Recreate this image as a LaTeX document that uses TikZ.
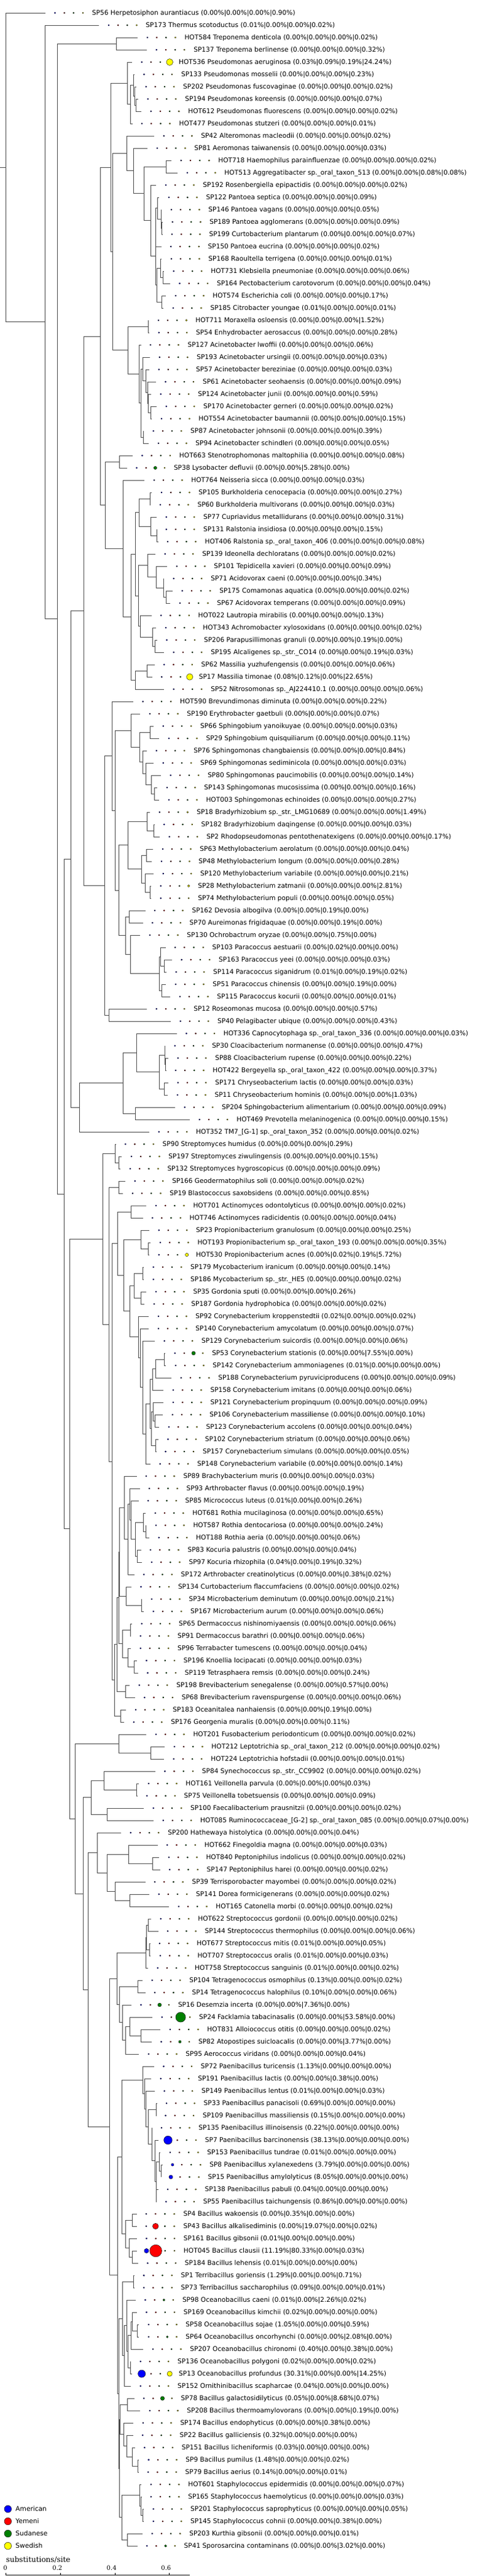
\documentclass[tikz,border=0pt]{standalone}
\usepackage{fontspec}
\setmainfont{DejaVu Sans}
\newfontfamily\scalefont{DejaVu Serif}
\usetikzlibrary{calc}

\definecolor{american}{RGB}{0,0,255}
\definecolor{yemeni}{RGB}{255,0,0}
\definecolor{sudanese}{RGB}{0,128,0}
\definecolor{swedish}{RGB}{255,255,0}

\tikzset{
  treeline/.style={draw=black!70, line width=1pt},
  dotline/.style={draw=black, line width=0.4pt},
  leaflabel/.style={anchor=base west, inner sep=0pt, font=\fontsize{10.6}{12}\selectfont},
  scalelabel/.style={inner sep=0pt, font=\scalefont\fontsize{10}{12}\selectfont},
  scaletitle/.style={anchor=west, inner sep=0pt, font=\scalefont\fontsize{12}{14}\selectfont},
}

% a leaf: row, branch end, id, species, American, Yemeni, Sudanese, Swedish
\newcommand\leaf[8]{%
  \coordinate (#3) at (#2,{21+20*#1});
  \pgfmathsetmacro\dotr{max(1.1,1.1*sqrt(#5))}
  \filldraw[dotline, fill=american] (#2+40,{21+20*#1}) circle[radius=\dotr pt];
  \pgfmathsetmacro\dotr{max(1.1,1.1*sqrt(#6))}
  \filldraw[dotline, fill=yemeni] (#2+79,{21+20*#1}) circle[radius=\dotr pt];
  \pgfmathsetmacro\dotr{max(1.1,1.1*sqrt(#7))}
  \filldraw[dotline, fill=sudanese] (#2+118,{21+20*#1}) circle[radius=\dotr pt];
  \pgfmathsetmacro\dotr{max(1.1,1.1*sqrt(#8))}
  \filldraw[dotline, fill=swedish] (#2+157,{21+20*#1}) circle[radius=\dotr pt];
  \node[leaflabel] (#3-label) at (#2+195,{24.8+20*#1}) {#3 #4 (#5\%|#6\%|#7\%|#8\%)};
}

% an inner node: name, x, first child, last child
\newcommand\inode[4]{%
  \coordinate (#1) at ($(#3)!0.5!(#4)$);
  \coordinate (#1) at (#2,0 |- #1);
  \draw[treeline] (#1) |- (#3);
  \draw[treeline] (#1) |- (#4);
}

\begin{document}
\begin{tikzpicture}[x=0.389pt, y=-1pt]
  \fill[white] (0,0) rectangle (2056.56,4190);
  \useasboundingbox (0,0) rectangle (2056.56,4190);

  \leaf{0}{190}{SP56}{Herpetosiphon aurantiacus}{0.00}{0.00}{0.00}{0.90}
  \leaf{1}{415}{SP173}{Thermus scotoductus}{0.01}{0.00}{0.00}{0.02}
  \leaf{2}{577}{HOT584}{Treponema denticola}{0.00}{0.00}{0.00}{0.02}
  \leaf{3}{615}{SP137}{Treponema berlinense}{0.00}{0.00}{0.00}{0.32}
  \leaf{4}{553}{HOT536}{Pseudomonas aeruginosa}{0.03}{0.09}{0.19}{24.24}
  \leaf{5}{563}{SP133}{Pseudomonas mosselii}{0.00}{0.00}{0.00}{0.23}
  \leaf{6}{571}{SP202}{Pseudomonas fuscovaginae}{0.00}{0.00}{0.00}{0.02}
  \leaf{7}{579}{SP194}{Pseudomonas koreensis}{0.00}{0.00}{0.00}{0.07}
  \leaf{8}{592}{HOT612}{Pseudomonas fluorescens}{0.00}{0.00}{0.00}{0.02}
  \leaf{9}{554}{HOT477}{Pseudomonas stutzeri}{0.00}{0.00}{0.00}{0.01}
  \leaf{10}{646}{SP42}{Alteromonas macleodii}{0.00}{0.00}{0.00}{0.02}
  \leaf{11}{618}{SP81}{Aeromonas taiwanensis}{0.00}{0.00}{0.00}{0.03}
  \leaf{12}{718}{HOT718}{Haemophilus parainfluenzae}{0.00}{0.00}{0.00}{0.02}
  \leaf{13}{744}{HOT513}{Aggregatibacter sp.\_oral\_taxon\_513}{0.00}{0.00}{0.08}{0.08}
  \leaf{14}{654}{SP192}{Rosenbergiella epipactidis}{0.00}{0.00}{0.00}{0.02}
  \leaf{15}{667}{SP122}{Pantoea septica}{0.00}{0.00}{0.00}{0.09}
  \leaf{16}{677}{SP146}{Pantoea vagans}{0.00}{0.00}{0.00}{0.05}
  \leaf{17}{682}{SP189}{Pantoea agglomerans}{0.00}{0.00}{0.00}{0.09}
  \leaf{18}{680}{SP199}{Curtobacterium plantarum}{0.00}{0.00}{0.00}{0.07}
  \leaf{19}{675}{SP150}{Pantoea eucrina}{0.00}{0.00}{0.00}{0.02}
  \leaf{20}{677}{SP168}{Raoultella terrigena}{0.00}{0.00}{0.00}{0.01}
  \leaf{21}{687}{HOT731}{Klebsiella pneumoniae}{0.00}{0.00}{0.00}{0.06}
  \leaf{22}{712}{SP164}{Pectobacterium carotovorum}{0.00}{0.00}{0.00}{0.04}
  \leaf{23}{695}{HOT574}{Escherichia coli}{0.00}{0.00}{0.00}{0.17}
  \leaf{24}{685}{SP185}{Citrobacter youngae}{0.01}{0.00}{0.00}{0.01}
  \leaf{25}{623}{HOT711}{Moraxella osloensis}{0.00}{0.00}{0.00}{1.52}
  \leaf{26}{625}{SP54}{Enhydrobacter aerosaccus}{0.00}{0.00}{0.00}{0.28}
  \leaf{27}{590}{SP127}{Acinetobacter lwoffii}{0.00}{0.00}{0.00}{0.06}
  \leaf{28}{628}{SP193}{Acinetobacter ursingii}{0.00}{0.00}{0.00}{0.03}
  \leaf{29}{625}{SP57}{Acinetobacter bereziniae}{0.00}{0.00}{0.00}{0.03}
  \leaf{30}{653}{SP61}{Acinetobacter seohaensis}{0.00}{0.00}{0.00}{0.09}
  \leaf{31}{633}{SP124}{Acinetobacter junii}{0.00}{0.00}{0.00}{0.59}
  \leaf{32}{656}{SP170}{Acinetobacter gerneri}{0.00}{0.00}{0.00}{0.02}
  \leaf{33}{636}{HOT554}{Acinetobacter baumannii}{0.00}{0.00}{0.00}{0.15}
  \leaf{34}{602}{SP87}{Acinetobacter johnsonii}{0.00}{0.00}{0.00}{0.39}
  \leaf{35}{623}{SP94}{Acinetobacter schindleri}{0.00}{0.00}{0.00}{0.05}
  \leaf{36}{555}{HOT663}{Stenotrophomonas maltophilia}{0.00}{0.00}{0.00}{0.08}
  \leaf{37}{532}{SP38}{Lysobacter defluvii}{0.00}{0.00}{5.28}{0.00}
  \leaf{38}{605}{HOT764}{Neisseria sicca}{0.00}{0.00}{0.00}{0.03}
  \leaf{39}{636}{SP105}{Burkholderia cenocepacia}{0.00}{0.00}{0.00}{0.27}
  \leaf{40}{631}{SP60}{Burkholderia multivorans}{0.00}{0.00}{0.00}{0.03}
  \leaf{41}{656}{SP77}{Cupriavidus metallidurans}{0.00}{0.00}{0.00}{0.31}
  \leaf{42}{656}{SP131}{Ralstonia insidiosa}{0.00}{0.00}{0.00}{0.15}
  \leaf{43}{662}{HOT406}{Ralstonia sp.\_oral\_taxon\_406}{0.00}{0.00}{0.00}{0.08}
  \leaf{44}{651}{SP139}{Ideonella dechloratans}{0.00}{0.00}{0.00}{0.02}
  \leaf{45}{700}{SP101}{Tepidicella xavieri}{0.00}{0.00}{0.00}{0.09}
  \leaf{46}{687}{SP71}{Acidovorax caeni}{0.00}{0.00}{0.00}{0.34}
  \leaf{47}{723}{SP175}{Comamonas aquatica}{0.00}{0.00}{0.00}{0.02}
  \leaf{48}{713}{SP67}{Acidovorax temperans}{0.00}{0.00}{0.00}{0.09}
  \leaf{49}{634}{HOT022}{Lautropia mirabilis}{0.00}{0.00}{0.00}{0.13}
  \leaf{50}{654}{HOT343}{Achromobacter xylosoxidans}{0.00}{0.00}{0.00}{0.02}
  \leaf{51}{658}{SP206}{Parapusillimonas granuli}{0.00}{0.00}{0.19}{0.00}
  \leaf{52}{687}{SP195}{Alcaligenes sp.\_str.\_CO14}{0.00}{0.00}{0.19}{0.03}
  \leaf{53}{647}{SP62}{Massilia yuzhufengensis}{0.00}{0.00}{0.00}{0.06}
  \leaf{54}{637}{SP17}{Massilia timonae}{0.08}{0.12}{0.00}{22.65}
  \leaf{55}{687}{SP52}{Nitrosomonas sp.\_AJ224410.1}{0.00}{0.00}{0.00}{0.06}
  \leaf{56}{558}{HOT590}{Brevundimonas diminuta}{0.00}{0.00}{0.00}{0.22}
  \leaf{57}{587}{SP190}{Erythrobacter gaetbuli}{0.00}{0.00}{0.00}{0.07}
  \leaf{58}{643}{SP66}{Sphingobium yanoikuyae}{0.00}{0.00}{0.00}{0.03}
  \leaf{59}{667}{SP29}{Sphingobium quisquiliarum}{0.00}{0.00}{0.00}{0.11}
  \leaf{60}{615}{SP76}{Sphingomonas changbaiensis}{0.00}{0.00}{0.00}{0.84}
  \leaf{61}{643}{SP69}{Sphingomonas sediminicola}{0.00}{0.00}{0.00}{0.03}
  \leaf{62}{674}{SP80}{Sphingomonas paucimobilis}{0.00}{0.00}{0.00}{0.14}
  \leaf{63}{659}{SP143}{Sphingomonas mucosissima}{0.00}{0.00}{0.00}{0.16}
  \leaf{64}{667}{HOT003}{Sphingomonas echinoides}{0.00}{0.00}{0.00}{0.27}
  \leaf{65}{628}{SP18}{Bradyrhizobium sp.\_str.\_LMG10689}{0.00}{0.00}{0.00}{1.49}
  \leaf{66}{647}{SP182}{Bradyrhizobium daqingense}{0.00}{0.00}{0.00}{0.03}
  \leaf{67}{669}{SP2}{Rhodopseudomonas pentothenatexigens}{0.00}{0.00}{0.00}{0.17}
  \leaf{68}{641}{SP63}{Methylobacterium aerolatum}{0.00}{0.00}{0.00}{0.04}
  \leaf{69}{636}{SP48}{Methylobacterium longum}{0.00}{0.00}{0.00}{0.28}
  \leaf{70}{643}{SP120}{Methylobacterium variabile}{0.00}{0.00}{0.00}{0.21}
  \leaf{71}{633}{SP28}{Methylobacterium zatmanii}{0.00}{0.00}{0.00}{2.81}
  \leaf{72}{633}{SP74}{Methylobacterium populi}{0.00}{0.00}{0.00}{0.05}
  \leaf{73}{608}{SP162}{Devosia albogilva}{0.00}{0.00}{0.19}{0.00}
  \leaf{74}{598}{SP70}{Aureimonas frigidaquae}{0.00}{0.00}{0.19}{0.00}
  \leaf{75}{587}{SP130}{Ochrobactrum oryzae}{0.00}{0.00}{0.75}{0.00}
  \leaf{76}{693}{SP103}{Paracoccus aestuarii}{0.00}{0.02}{0.00}{0.00}
  \leaf{77}{720}{SP163}{Paracoccus yeei}{0.00}{0.00}{0.00}{0.03}
  \leaf{78}{697}{SP114}{Paracoccus siganidrum}{0.01}{0.00}{0.19}{0.02}
  \leaf{79}{695}{SP51}{Paracoccus chinensis}{0.00}{0.00}{0.19}{0.00}
  \leaf{80}{713}{SP115}{Paracoccus kocurii}{0.00}{0.00}{0.00}{0.01}
  \leaf{81}{615}{SP12}{Roseomonas mucosa}{0.00}{0.00}{0.00}{0.57}
  \leaf{82}{715}{SP40}{Pelagibacter ubique}{0.00}{0.00}{0.00}{0.43}
  \leaf{83}{740}{HOT336}{Capnocytophaga sp.\_oral\_taxon\_336}{0.00}{0.00}{0.00}{0.03}
  \leaf{84}{692}{SP30}{Cloacibacterium normanense}{0.00}{0.00}{0.00}{0.47}
  \leaf{85}{705}{SP88}{Cloacibacterium rupense}{0.00}{0.00}{0.00}{0.22}
  \leaf{86}{695}{HOT422}{Bergeyella sp.\_oral\_taxon\_422}{0.00}{0.00}{0.00}{0.37}
  \leaf{87}{705}{SP171}{Chryseobacterium lactis}{0.00}{0.00}{0.00}{0.03}
  \leaf{88}{703}{SP11}{Chryseobacterium hominis}{0.00}{0.00}{0.00}{1.03}
  \leaf{89}{733}{SP204}{Sphingobacterium alimentarium}{0.00}{0.00}{0.00}{0.09}
  \leaf{90}{795}{HOT469}{Prevotella melaninogenica}{0.00}{0.00}{0.00}{0.15}
  \leaf{91}{625}{HOT352}{TM7\_[G-1] sp.\_oral\_taxon\_352}{0.00}{0.00}{0.00}{0.02}
  \leaf{92}{485}{SP90}{Streptomyces humidus}{0.00}{0.00}{0.00}{0.29}
  \leaf{93}{510}{SP197}{Streptomyces ziwulingensis}{0.00}{0.00}{0.00}{0.15}
  \leaf{94}{505}{SP132}{Streptomyces hygroscopicus}{0.00}{0.00}{0.00}{0.09}
  \leaf{95}{525}{SP166}{Geodermatophilus soli}{0.00}{0.00}{0.00}{0.02}
  \leaf{96}{515}{SP19}{Blastococcus saxobsidens}{0.00}{0.00}{0.00}{0.85}
  \leaf{97}{613}{HOT701}{Actinomyces odontolyticus}{0.00}{0.00}{0.00}{0.02}
  \leaf{98}{598}{HOT746}{Actinomyces radicidentis}{0.00}{0.00}{0.00}{0.04}
  \leaf{99}{625}{SP23}{Propionibacterium granulosum}{0.00}{0.00}{0.00}{0.25}
  \leaf{100}{631}{HOT193}{Propionibacterium sp.\_oral\_taxon\_193}{0.00}{0.00}{0.00}{0.35}
  \leaf{101}{625}{HOT530}{Propionibacterium acnes}{0.00}{0.02}{0.19}{5.72}
  \leaf{102}{602}{SP179}{Mycobacterium iranicum}{0.00}{0.00}{0.00}{0.14}
  \leaf{103}{602}{SP186}{Mycobacterium sp.\_str.\_HE5}{0.00}{0.00}{0.00}{0.02}
  \leaf{104}{613}{SP35}{Gordonia sputi}{0.00}{0.00}{0.00}{0.26}
  \leaf{105}{605}{SP187}{Gordonia hydrophobica}{0.00}{0.00}{0.00}{0.02}
  \leaf{106}{623}{SP92}{Corynebacterium kroppenstedtii}{0.02}{0.00}{0.00}{0.02}
  \leaf{107}{623}{SP140}{Corynebacterium amycolatum}{0.00}{0.00}{0.00}{0.07}
  \leaf{108}{648}{SP129}{Corynebacterium suicordis}{0.00}{0.00}{0.00}{0.06}
  \leaf{109}{692}{SP53}{Corynebacterium stationis}{0.00}{0.00}{7.55}{0.00}
  \leaf{110}{695}{SP142}{Corynebacterium ammoniagenes}{0.01}{0.00}{0.00}{0.00}
  \leaf{111}{718}{SP188}{Corynebacterium pyruviciproducens}{0.00}{0.00}{0.00}{0.09}
  \leaf{112}{685}{SP158}{Corynebacterium imitans}{0.00}{0.00}{0.00}{0.06}
  \leaf{113}{685}{SP121}{Corynebacterium propinquum}{0.00}{0.00}{0.00}{0.09}
  \leaf{114}{682}{SP106}{Corynebacterium massiliense}{0.00}{0.00}{0.00}{0.10}
  \leaf{115}{667}{SP123}{Corynebacterium accolens}{0.00}{0.00}{0.00}{0.04}
  \leaf{116}{663}{SP102}{Corynebacterium striatum}{0.00}{0.00}{0.00}{0.06}
  \leaf{117}{653}{SP157}{Corynebacterium simulans}{0.00}{0.00}{0.00}{0.05}
  \leaf{118}{630}{SP148}{Corynebacterium variabile}{0.00}{0.00}{0.00}{0.14}
  \leaf{119}{572}{SP89}{Brachybacterium muris}{0.00}{0.00}{0.00}{0.03}
  \leaf{120}{585}{SP93}{Arthrobacter flavus}{0.00}{0.00}{0.00}{0.19}
  \leaf{121}{580}{SP85}{Micrococcus luteus}{0.01}{0.00}{0.00}{0.26}
  \leaf{122}{610}{HOT681}{Rothia mucilaginosa}{0.00}{0.00}{0.00}{0.65}
  \leaf{123}{613}{HOT587}{Rothia dentocariosa}{0.00}{0.00}{0.00}{0.24}
  \leaf{124}{625}{HOT188}{Rothia aeria}{0.00}{0.00}{0.00}{0.06}
  \leaf{125}{590}{SP83}{Kocuria palustris}{0.00}{0.00}{0.00}{0.04}
  \leaf{126}{595}{SP97}{Kocuria rhizophila}{0.04}{0.00}{0.19}{0.32}
  \leaf{127}{562}{SP172}{Arthrobacter creatinolyticus}{0.00}{0.00}{0.38}{0.02}
  \leaf{128}{550}{SP134}{Curtobacterium flaccumfaciens}{0.00}{0.00}{0.00}{0.02}
  \leaf{129}{595}{SP34}{Microbacterium deminutum}{0.00}{0.00}{0.00}{0.21}
  \leaf{130}{602}{SP167}{Microbacterium aurum}{0.00}{0.00}{0.00}{0.06}
  \leaf{131}{553}{SP65}{Dermacoccus nishinomiyaensis}{0.00}{0.00}{0.00}{0.06}
  \leaf{132}{548}{SP91}{Dermacoccus barathri}{0.00}{0.00}{0.00}{0.06}
  \leaf{133}{548}{SP96}{Terrabacter tumescens}{0.00}{0.00}{0.00}{0.04}
  \leaf{134}{573}{SP196}{Knoellia locipacati}{0.00}{0.00}{0.00}{0.03}
  \leaf{135}{578}{SP119}{Tetrasphaera remsis}{0.00}{0.00}{0.00}{0.24}
  \leaf{136}{543}{SP198}{Brevibacterium senegalense}{0.00}{0.00}{0.57}{0.00}
  \leaf{137}{565}{SP68}{Brevibacterium ravenspurgense}{0.00}{0.00}{0.00}{0.06}
  \leaf{138}{528}{SP183}{Oceanitalea nanhaiensis}{0.00}{0.00}{0.19}{0.00}
  \leaf{139}{520}{SP176}{Georgenia muralis}{0.00}{0.00}{0.00}{0.11}
  \leaf{140}{613}{HOT201}{Fusobacterium periodonticum}{0.00}{0.00}{0.00}{0.02}
  \leaf{141}{690}{HOT212}{Leptotrichia sp.\_oral\_taxon\_212}{0.00}{0.00}{0.00}{0.02}
  \leaf{142}{687}{HOT224}{Leptotrichia hofstadii}{0.00}{0.00}{0.00}{0.01}
  \leaf{143}{650}{SP84}{Synechococcus sp.\_str.\_CC9902}{0.00}{0.00}{0.00}{0.02}
  \leaf{144}{582}{HOT161}{Veillonella parvula}{0.00}{0.00}{0.00}{0.03}
  \leaf{145}{575}{SP75}{Veillonella tobetsuensis}{0.00}{0.00}{0.00}{0.09}
  \leaf{146}{602}{SP100}{Faecalibacterium prausnitzii}{0.00}{0.00}{0.00}{0.02}
  \leaf{147}{643}{HOT085}{Ruminococcaceae\_[G-2] sp.\_oral\_taxon\_085}{0.00}{0.00}{0.07}{0.00}
  \leaf{148}{507}{SP200}{Hathewaya histolytica}{0.00}{0.00}{0.00}{0.04}
  \leaf{149}{660}{HOT662}{Finegoldia magna}{0.00}{0.00}{0.00}{0.03}
  \leaf{150}{667}{HOT840}{Peptoniphilus indolicus}{0.00}{0.00}{0.00}{0.02}
  \leaf{151}{670}{SP147}{Peptoniphilus harei}{0.00}{0.00}{0.00}{0.02}
  \leaf{152}{608}{SP39}{Terrisporobacter mayombei}{0.00}{0.00}{0.00}{0.02}
  \leaf{153}{625}{SP141}{Dorea formicigenerans}{0.00}{0.00}{0.00}{0.02}
  \leaf{154}{708}{HOT165}{Catonella morbi}{0.00}{0.00}{0.00}{0.02}
  \leaf{155}{633}{HOT622}{Streptococcus gordonii}{0.00}{0.00}{0.00}{0.02}
  \leaf{156}{662}{SP144}{Streptococcus thermophilus}{0.00}{0.00}{0.00}{0.06}
  \leaf{157}{628}{HOT677}{Streptococcus mitis}{0.01}{0.00}{0.00}{0.05}
  \leaf{158}{631}{HOT707}{Streptococcus oralis}{0.01}{0.00}{0.00}{0.03}
  \leaf{159}{620}{HOT758}{Streptococcus sanguinis}{0.01}{0.00}{0.00}{0.02}
  \leaf{160}{597}{SP104}{Tetragenococcus osmophilus}{0.13}{0.00}{0.00}{0.02}
  \leaf{161}{608}{SP14}{Tetragenococcus halophilus}{0.10}{0.00}{0.00}{0.06}
  \leaf{162}{550}{SP16}{Desemzia incerta}{0.00}{0.00}{7.36}{0.00}
  \leaf{163}{638}{SP24}{Facklamia tabacinasalis}{0.00}{0.00}{53.58}{0.00}
  \leaf{164}{672}{HOT831}{Alloiococcus otitis}{0.00}{0.00}{0.00}{0.02}
  \leaf{165}{635}{SP82}{Atopostipes suicloacalis}{0.00}{0.00}{3.77}{0.00}
  \leaf{166}{582}{SP95}{Aerococcus viridans}{0.00}{0.00}{0.00}{0.04}
  \leaf{167}{645}{SP72}{Paenibacillus turicensis}{1.13}{0.00}{0.00}{0.00}
  \leaf{168}{633}{SP191}{Paenibacillus lactis}{0.00}{0.00}{0.38}{0.00}
  \leaf{169}{648}{SP149}{Paenibacillus lentus}{0.01}{0.00}{0.00}{0.03}
  \leaf{170}{657}{SP33}{Paenibacillus panacisoli}{0.69}{0.00}{0.00}{0.00}
  \leaf{171}{653}{SP109}{Paenibacillus massiliensis}{0.15}{0.00}{0.00}{0.00}
  \leaf{172}{636}{SP135}{Paenibacillus illinoisensis}{0.22}{0.00}{0.00}{0.00}
  \leaf{173}{663}{SP7}{Paenibacillus barcinonensis}{38.13}{0.00}{0.00}{0.00}
  \leaf{174}{672}{SP153}{Paenibacillus tundrae}{0.01}{0.00}{0.00}{0.00}
  \leaf{175}{682}{SP8}{Paenibacillus xylanexedens}{3.79}{0.00}{0.00}{0.00}
  \leaf{176}{675}{SP15}{Paenibacillus amylolyticus}{8.05}{0.00}{0.00}{0.00}
  \leaf{177}{662}{SP138}{Paenibacillus pabuli}{0.04}{0.00}{0.00}{0.00}
  \leaf{178}{655}{SP55}{Paenibacillus taichungensis}{0.86}{0.00}{0.00}{0.00}
  \leaf{179}{572}{SP4}{Bacillus wakoensis}{0.00}{0.35}{0.00}{0.00}
  \leaf{180}{572}{SP43}{Bacillus alkalisediminis}{0.00}{19.07}{0.00}{0.02}
  \leaf{181}{573}{SP161}{Bacillus gibsonii}{0.01}{0.00}{0.00}{0.00}
  \leaf{182}{573}{HOT045}{Bacillus clausii}{11.19}{80.33}{0.00}{0.03}
  \leaf{183}{578}{SP184}{Bacillus lehensis}{0.01}{0.00}{0.00}{0.00}
  \leaf{184}{562}{SP1}{Terribacillus goriensis}{1.29}{0.00}{0.00}{0.71}
  \leaf{185}{562}{SP73}{Terribacillus saccharophilus}{0.09}{0.00}{0.00}{0.01}
  \leaf{186}{568}{SP98}{Oceanobacillus caeni}{0.01}{0.00}{2.26}{0.02}
  \leaf{187}{573}{SP169}{Oceanobacillus kimchii}{0.02}{0.00}{0.00}{0.00}
  \leaf{188}{582}{SP58}{Oceanobacillus sojae}{1.05}{0.00}{0.00}{0.59}
  \leaf{189}{582}{SP64}{Oceanobacillus oncorhynchi}{0.00}{0.00}{2.08}{0.00}
  \leaf{190}{600}{SP207}{Oceanobacillus chironomi}{0.40}{0.00}{0.38}{0.00}
  \leaf{191}{548}{SP136}{Oceanobacillus polygoni}{0.02}{0.00}{0.00}{0.02}
  \leaf{192}{553}{SP13}{Oceanobacillus profundus}{30.31}{0.00}{0.00}{14.25}
  \leaf{193}{548}{SP152}{Ornithinibacillus scapharcae}{0.04}{0.00}{0.00}{0.00}
  \leaf{194}{562}{SP78}{Bacillus galactosidilyticus}{0.05}{0.00}{8.68}{0.07}
  \leaf{195}{587}{SP208}{Bacillus thermoamylovorans}{0.00}{0.00}{0.19}{0.00}
  \leaf{196}{559}{SP174}{Bacillus endophyticus}{0.00}{0.00}{0.38}{0.00}
  \leaf{197}{557}{SP22}{Bacillus galliciensis}{0.32}{0.00}{0.00}{0.00}
  \leaf{198}{565}{SP151}{Bacillus licheniformis}{0.03}{0.00}{0.00}{0.00}
  \leaf{199}{582}{SP9}{Bacillus pumilus}{1.48}{0.00}{0.00}{0.02}
  \leaf{200}{580}{SP79}{Bacillus aerius}{0.14}{0.00}{0.00}{0.01}
  \leaf{201}{592}{HOT601}{Staphylococcus epidermidis}{0.00}{0.00}{0.00}{0.07}
  \leaf{202}{592}{SP165}{Staphylococcus haemolyticus}{0.00}{0.00}{0.00}{0.03}
  \leaf{203}{602}{SP201}{Staphylococcus saprophyticus}{0.00}{0.00}{0.00}{0.05}
  \leaf{204}{602}{SP145}{Staphylococcus cohnii}{0.00}{0.00}{0.38}{0.00}
  \leaf{205}{597}{SP203}{Kurthia gibsonii}{0.00}{0.00}{0.00}{0.01}
  \leaf{206}{575}{SP41}{Sporosarcina contaminans}{0.00}{0.00}{3.02}{0.00}

  % Proteobacteria
  \inode{pse5}{570}{SP194}{HOT612}
  \inode{pse4}{565}{SP202}{pse5}
  \inode{pse3}{558}{SP133}{pse4}
  \inode{pse2}{547}{pse3}{HOT477}
  \inode{pse}{533}{HOT536}{pse2}
  \inode{hae}{695}{HOT718}{HOT513}
  \inode{panz}{677}{SP189}{SP199}
  \inode{pany}{674}{SP146}{panz}
  \inode{panx}{660}{SP122}{pany}
  \inode{pan}{652}{panx}{SP150}
  \inode{kle}{682}{HOT731}{SP164}
  \inode{rao}{673}{SP168}{kle}
  \inode{esc}{678}{HOT574}{SP185}
  \inode{ent3}{657}{rao}{esc}
  \inode{ent2}{652}{pan}{ent3}
  \inode{ent}{632}{SP192}{ent2}
  \inode{gam3}{603}{hae}{ent}
  \inode{gam2}{558}{SP81}{gam3}
  \inode{gam1}{530}{SP42}{gam2}
  \inode{mor}{620}{HOT711}{SP54}
  \inode{aci5}{632}{SP170}{HOT554}
  \inode{aci4}{622}{SP124}{aci5}
  \inode{aci3}{617}{SP61}{aci4}
  \inode{aci2}{610}{SP57}{aci3}
  \inode{aci1}{597}{SP193}{aci2}
  \inode{acij}{600}{SP87}{SP94}
  \inode{acib}{590}{aci1}{acij}
  \inode{aci}{583}{SP127}{acib}
  \inode{mox}{537}{mor}{aci}
  \inode{gam}{472}{gam1}{mox}
  \inode{gpg}{465}{pse}{gam}
  \inode{xan}{500}{HOT663}{SP38}
  \inode{bur}{628}{SP105}{SP60}
  \inode{ral}{657}{SP131}{HOT406}
  \inode{cup}{632}{SP77}{ral}
  \inode{burk}{582}{bur}{cup}
  \inode{com4}{695}{SP175}{SP67}
  \inode{com3}{684}{SP71}{com4}
  \inode{com2}{655}{SP101}{com3}
  \inode{com1}{618}{SP139}{com2}
  \inode{alc3}{650}{SP206}{SP195}
  \inode{alc2}{638}{HOT343}{alc3}
  \inode{alc}{587}{HOT022}{alc2}
  \inode{comal}{580}{com1}{alc}
  \inode{betb}{567}{burk}{comal}
  \inode{mas}{615}{SP62}{SP17}
  \inode{nit}{567}{mas}{SP52}
  \inode{beta2}{550}{betb}{nit}
  \inode{beta}{515}{HOT764}{beta2}
  \inode{xb}{440}{xan}{beta}
  \inode{gb}{420}{gpg}{xb}
  \inode{sgb}{628}{SP66}{SP29}
  \inode{sgm4}{647}{SP143}{HOT003}
  \inode{sgm3}{633}{SP80}{sgm4}
  \inode{sgm2}{610}{SP69}{sgm3}
  \inode{sgm}{598}{SP76}{sgm2}
  \inode{sph2}{585}{sgb}{sgm}
  \inode{sph}{550}{SP190}{sph2}
  \inode{bra2}{644}{SP182}{SP2}
  \inode{bra}{615}{SP18}{bra2}
  \inode{met1}{612}{SP63}{SP48}
  \inode{met3}{628}{SP28}{SP74}
  \inode{met2}{608}{SP120}{met3}
  \inode{met}{592}{met1}{met2}
  \inode{rhz}{537}{bra}{met}
  \inode{dev}{540}{SP162}{SP70}
  \inode{par2}{687}{SP163}{SP114}
  \inode{par1}{672}{SP103}{par2}
  \inode{par3}{678}{SP51}{SP115}
  \inode{par}{668}{par1}{par3}
  \inode{och}{545}{SP130}{par}
  \inode{rhz2}{525}{dev}{och}
  \inode{rhi}{497}{rhz}{rhz2}
  \inode{alp3}{482}{sph}{rhi}
  \inode{alp1}{470}{HOT590}{alp3}
  \inode{ros}{455}{SP12}{SP40}
  \inode{alpha}{438}{alp1}{ros}
  \inode{prot}{350}{gb}{alpha}

  % Bacteroidetes and TM7
  \inode{clo2}{693}{SP88}{HOT422}
  \inode{clo}{690}{SP30}{clo2}
  \inode{chr}{688}{SP171}{SP11}
  \inode{fla2}{668}{clo}{chr}
  \inode{fla}{573}{HOT336}{fla2}
  \inode{sbp}{567}{SP204}{HOT469}
  \inode{bac}{515}{fla}{sbp}
  \inode{bct}{332}{bac}{HOT352}
  \inode{pbt}{296}{prot}{bct}

  % Actinobacteria
  \inode{strm2}{497}{SP197}{SP132}
  \inode{strm}{483}{SP90}{strm2}
  \inode{geo}{497}{SP166}{SP19}
  \inode{act}{550}{HOT701}{HOT746}
  \inode{pro2}{620}{HOT193}{HOT530}
  \inode{pro}{590}{SP23}{pro2}
  \inode{myc}{597}{SP179}{SP186}
  \inode{gor}{590}{SP35}{SP187}
  \inode{mgo}{562}{myc}{gor}
  \inode{cst1}{688}{SP53}{SP142}
  \inode{cst2}{652}{cst1}{SP188}
  \inode{cst3}{638}{cst2}{SP158}
  \inode{cac1}{648}{SP106}{SP123}
  \inode{cac2}{642}{SP121}{cac1}
  \inode{cst4}{652}{SP102}{SP157}
  \inode{cac3}{633}{cac2}{cst4}
  \inode{cor5}{628}{cst3}{cac3}
  \inode{cor4}{610}{cor5}{SP148}
  \inode{cor3}{597}{SP129}{cor4}
  \inode{cor2}{588}{SP140}{cor3}
  \inode{cor1}{580}{SP92}{cor2}
  \inode{cmn}{543}{mgo}{cor1}
  \inode{pcm}{518}{pro}{cmn}
  \inode{acm}{493}{act}{pcm}
  \inode{rot2}{610}{HOT587}{HOT188}
  \inode{rot}{600}{HOT681}{rot2}
  \inode{koc}{575}{SP83}{SP97}
  \inode{mic5}{568}{rot}{koc}
  \inode{mic4}{550}{SP85}{mic5}
  \inode{mic3}{543}{SP93}{mic4}
  \inode{mic2}{535}{mic3}{SP172}
  \inode{mic1}{520}{SP89}{mic2}
  \inode{mib2}{592}{SP34}{SP167}
  \inode{mib}{528}{SP134}{mib2}
  \inode{mcm}{500}{mic1}{mib}
  \inode{der}{545}{SP65}{SP91}
  \inode{kno}{562}{SP196}{SP119}
  \inode{ter}{537}{SP96}{kno}
  \inode{dti}{512}{der}{ter}
  \inode{mcd}{497}{mcm}{dti}
  \inode{brv}{525}{SP198}{SP68}
  \inode{mcb}{490}{mcd}{brv}
  \inode{gga}{505}{SP183}{SP176}
  \inode{micro}{480}{mcb}{gga}
  \inode{actm}{470}{acm}{micro}
  \inode{actg}{455}{geo}{actm}
  \inode{actino}{430}{strm}{actg}

  % Fusobacteria, Firmicutes
  \inode{lep}{632}{HOT212}{HOT224}
  \inode{fus}{497}{HOT201}{lep}
  \inode{vei}{573}{HOT161}{SP75}
  \inode{syn}{437}{SP84}{vei}
  \inode{rum}{448}{SP100}{HOT085}
  \inode{neg}{383}{syn}{rum}
  \inode{pep2}{640}{HOT840}{SP147}
  \inode{pep}{538}{HOT662}{pep2}
  \inode{dor}{543}{SP141}{HOT165}
  \inode{ery}{482}{SP39}{dor}
  \inode{cls2}{448}{pep}{ery}
  \inode{cls}{408}{SP200}{cls2}
  \inode{sc1}{622}{HOT622}{SP144}
  \inode{sc2}{626}{HOT677}{HOT707}
  \inode{sc3}{612}{sc1}{sc2}
  \inode{str}{610}{sc3}{HOT758}
  \inode{tet}{578}{SP104}{SP14}
  \inode{aer4}{590}{HOT831}{SP82}
  \inode{aer3}{543}{SP24}{aer4}
  \inode{aer2}{525}{aer3}{SP95}
  \inode{aer}{512}{SP16}{aer2}
  \inode{lab2}{500}{tet}{aer}
  \inode{lab}{490}{str}{lab2}
  \inode{pn1}{655}{SP33}{SP109}
  \inode{pn5}{675}{SP8}{SP15}
  \inode{pn6}{668}{SP153}{pn5}
  \inode{pn7}{653}{pn6}{SP55}
  \draw[treeline] (pn7) |- (SP138);
  \inode{pn8}{648}{SP7}{pn7}
  \inode{pn9}{637}{SP135}{pn8}
  \inode{pn10}{620}{pn1}{pn9}
  \inode{pa3}{610}{SP149}{pn10}
  \inode{pa2}{605}{SP191}{pa3}
  \inode{pae}{598}{SP72}{pa2}
  \inode{bw}{555}{SP4}{SP43}
  \inode{bcl2}{553}{HOT045}{SP184}
  \inode{bcl}{540}{SP161}{bcl2}
  \inode{bsc}{525}{bw}{bcl}
  \inode{pb}{510}{pae}{bsc}
  \inode{trb}{560}{SP1}{SP73}
  \inode{os}{575}{SP58}{SP64}
  \inode{ok}{555}{SP169}{os}
  \inode{oc2}{548}{ok}{SP207}
  \inode{op}{545}{SP136}{SP13}
  \inode{oc3}{537}{oc2}{op}
  \inode{oc5}{530}{SP98}{oc3}
  \inode{oc4}{520}{oc5}{SP152}
  \inode{bc3}{512}{trb}{oc4}
  \inode{bp}{577}{SP9}{SP79}
  \inode{bl}{553}{SP151}{bp}
  \inode{bga}{530}{SP22}{bl}
  \inode{ben}{517}{SP174}{bga}
  \inode{bg}{533}{SP78}{SP208}
  \inode{bx}{502}{bg}{ben}
  \inode{sa3}{598}{SP201}{SP145}
  \inode{sa2}{590}{SP165}{sa3}
  \inode{sa}{585}{HOT601}{sa2}
  \inode{ku}{533}{SP203}{SP41}
  \inode{stk}{510}{sa}{ku}
  \inode{bc4}{500}{bx}{stk}
  \inode{bc2}{497}{bc3}{bc4}
  \inode{bc}{493}{pb}{bc2}
  \inode{bacilli}{460}{lab}{bc}
  \inode{b4}{368}{cls}{bacilli}
  \inode{b3}{348}{neg}{b4}
  \inode{b2}{315}{fus}{b3}
  \inode{b}{292}{actino}{b2}

  % backbone
  \inode{n4}{268}{pbt}{b}
  \inode{trp}{487}{HOT584}{SP137}
  \inode{n2}{240}{trp}{n4}
  \inode{n1}{190}{SP173}{n2}
  \inode{root}{25}{SP56}{n1}
  \coordinate (stub) at (0,0 |- root);
  \draw[treeline] (stub) -- (root);

  % legend
  \filldraw[dotline, fill=american] (33,4081) circle[radius=5.8pt];
  \node[leaflabel] (leg-american) at (65,4084.8) {American};
  \filldraw[dotline, fill=yemeni] (33,4101) circle[radius=5.8pt];
  \node[leaflabel] (leg-yemeni) at (65,4104.8) {Yemeni};
  \filldraw[dotline, fill=sudanese] (33,4121) circle[radius=5.8pt];
  \node[leaflabel] (leg-sudanese) at (65,4124.8) {Sudanese};
  \filldraw[dotline, fill=swedish] (33,4141) circle[radius=5.8pt];
  \node[leaflabel] (leg-swedish) at (65,4144.8) {Swedish};

  % scale
  \node[scaletitle] (scale-title) at (25,4163) {substitutions/site};
  \coordinate (axis-start) at (25,4188.5);
  \coordinate (axis-end) at (795,4188.5);
  \draw[black, line width=1pt] (axis-start) -- (axis-end);
  \draw[black, line width=1pt] (25,4188.5) -- ++(0,-4);
  \draw[black, line width=1pt] (253,4188.5) -- ++(0,-4);
  \draw[black, line width=1pt] (481,4188.5) -- ++(0,-4);
  \draw[black, line width=1pt] (709,4188.5) -- ++(0,-4);
  \node[scalelabel] (tick-0) at (22,4177) {0};
  \node[scalelabel] (tick-2) at (240,4177) {0.2};
  \node[scalelabel] (tick-4) at (467,4177) {0.4};
  \node[scalelabel] (tick-6) at (695,4177) {0.6};
\end{tikzpicture}
\end{document}
